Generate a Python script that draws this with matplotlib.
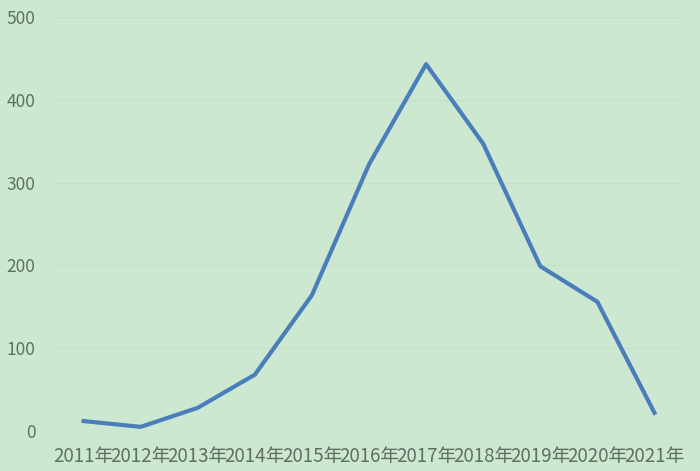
import matplotlib.pyplot as plt

plt.rcParams['font.family'] = ['Noto Sans CJK SC', 'DejaVu Sans']

years = ['2011年', '2012年', '2013年', '2014年', '2015年', '2016年',
         '2017年', '2018年', '2019年', '2020年', '2021年']
counts = [12, 5, 28, 68, 164, 322, 443, 347, 199, 156, 22]

bg = '#cde8d0'
fig = plt.figure(figsize=(7, 4.71), dpi=100, facecolor=bg)
ax = fig.add_axes([55 / 700, 40 / 471, 628 / 700, 414 / 471], facecolor=bg)

x = list(range(len(years)))
ax.plot(x, counts, color='#4a7ebb', linewidth=3, solid_joinstyle='round')

ax.set_xlim(-0.5, len(years) - 0.5)
ax.set_ylim(0, 500)
ax.set_yticks(range(0, 501, 100))
ax.set_xticks(x)
ax.set_xticklabels(years)
ax.grid(axis='y', color='#c4e0c7', linewidth=1)
ax.set_axisbelow(True)
for s in ax.spines.values():
    s.set_visible(False)
ax.tick_params(axis='both', length=0, colors='#5f6f62')
ax.tick_params(axis='y', pad=14, labelsize=12.5)
ax.tick_params(axis='x', pad=11, labelsize=13.5)

fig.savefig('out.png', facecolor=bg)
